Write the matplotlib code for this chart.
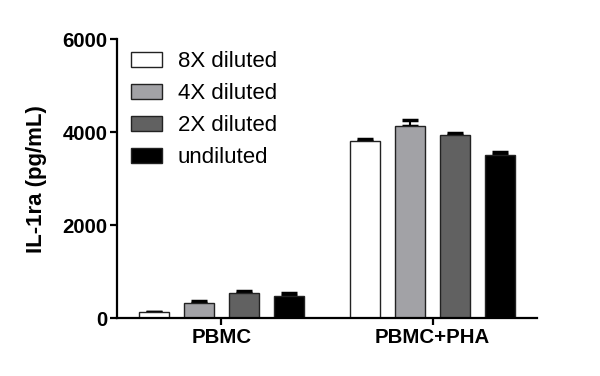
import numpy as np
import matplotlib.pyplot as plt

plt.rcParams['font.family'] = ['Liberation Sans', 'DejaVu Sans']

groups = ['PBMC', 'PBMC+PHA']
series = ['8X diluted', '4X diluted', '2X diluted', 'undiluted']
means = [[125, 3810],
         [320, 4130],
         [535, 3935],
         [480, 3510]]
errs = [[0, 40],
        [40, 140],
        [40, 50],
        [55, 60]]
colors = ['white', '#a2a2a6', '#616161', 'black']

fig = plt.figure(figsize=(6, 3.76), dpi=100)
ax = fig.add_axes([0.195, 0.154, 0.70, 0.742])

x = np.arange(len(groups))
step = 0.213
w = 0.142
for i in range(len(series)):
    pos = x + (i - 1.5) * step
    ax.bar(pos, means[i], width=w, color=colors[i], edgecolor='#222222',
           linewidth=1.0, label=series[i], zorder=2)
    ax.errorbar(pos, means[i], yerr=[np.zeros(len(groups)), errs[i]],
                fmt='none', ecolor='black', elinewidth=1.5, capsize=5.5,
                capthick=2.5, zorder=1)

ax.set_xlim(-0.495, 1.495)
ax.set_ylim(0, 6000)
ax.set_yticks([0, 2000, 4000, 6000])
ax.set_xticks(x)
ax.set_xticklabels(groups)
ax.set_ylabel('IL-1ra (pg/mL)', fontsize=16, fontweight='bold', labelpad=11)

for s in ['top', 'right']:
    ax.spines[s].set_visible(False)
for s in ['left', 'bottom']:
    ax.spines[s].set_linewidth(1.6)
ax.tick_params(axis='both', width=1.6, length=5, labelsize=14.7, pad=2)
for lab in ax.get_xticklabels() + ax.get_yticklabels():
    lab.set_fontweight('bold')

ax.legend(loc='upper left', bbox_to_anchor=(0.218, 0.864),
          bbox_transform=fig.transFigure, frameon=False, fontsize=16,
          handlelength=1.4, handleheight=0.63, handletextpad=0.72,
          labelspacing=0.5, borderpad=0, borderaxespad=0)

plt.savefig('out.png', dpi=100)
